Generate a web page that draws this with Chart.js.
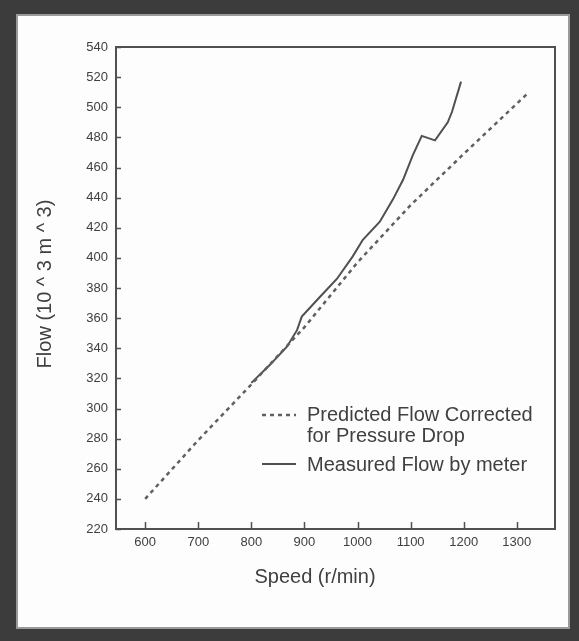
<!DOCTYPE html>
<html>
<head>
<meta charset="utf-8">
<script src="https://cdn.jsdelivr.net/npm/chart.js@4"></script>
<style>
  html, body { margin: 0; padding: 0; background: #3c3c3c; }
  canvas { display: block; }
</style>
</head>
<body>
<canvas id="c" width="579" height="641"></canvas>
<script>
// ---- data ----
const predictedSpeed = [600, 700, 800, 900, 1000, 1100, 1200, 1320];
const predictedFlow  = [240, 279, 316, 354, 397, 435, 469, 509];

const measuredSpeed = [800, 835, 867, 886, 895, 929, 961, 991, 1010, 1042, 1067, 1086, 1104, 1121, 1146, 1170, 1178, 1195];
const measuredFlow  = [317, 329, 341, 352, 361, 374, 386, 401, 412, 424, 439, 452, 468, 481, 478, 490, 497, 517];

const xTickValues = [600, 700, 800, 900, 1000, 1100, 1200, 1300];
const yTickValues = [220, 240, 260, 280, 300, 320, 340, 360, 380, 400, 420, 440, 460, 480, 500, 520, 540];

const xTitle = 'Speed (r/min)';
const yTitle = 'Flow (10 ^ 3 m ^ 3)';
const predictedLabel = ['Predicted Flow Corrected', 'for Pressure Drop'];
const measuredLabel = 'Measured Flow by meter';

const FONT = '"Liberation Sans", Arial, Helvetica, sans-serif';
const INK = '#404040';
const LINE = '#505050';

function pts(xs, ys) { return xs.map((x, i) => ({ x: x, y: ys[i] })); }

const framePlugin = {
  id: 'frame',
  beforeDraw(chart) {
    const ctx = chart.ctx;
    ctx.save();
    ctx.fillStyle = '#3c3c3c';
    ctx.fillRect(0, 0, chart.width, chart.height);
    ctx.fillStyle = '#9a9a9a';
    ctx.fillRect(16, 14, 554, 615);
    ctx.fillStyle = '#fdfdfd';
    ctx.fillRect(18, 16, 550, 611);
    ctx.restore();
  },
  afterDatasetsDraw(chart) {
    const ctx = chart.ctx;
    const a = chart.chartArea;
    const xs = chart.scales.x, ys = chart.scales.y;
    ctx.save();
    ctx.strokeStyle = LINE;
    ctx.lineWidth = 2;
    ctx.strokeRect(a.left, a.top, a.right - a.left, a.bottom - a.top);
    ctx.lineWidth = 1.5;
    ctx.beginPath();
    xTickValues.forEach(v => {
      const p = Math.round(xs.getPixelForValue(v)) + 0.5;
      ctx.moveTo(p, a.bottom);
      ctx.lineTo(p, a.bottom - 7);
    });
    yTickValues.forEach(v => {
      const p = Math.round(ys.getPixelForValue(v)) + 0.5;
      ctx.moveTo(a.left, p);
      ctx.lineTo(a.left + 5, p);
    });
    ctx.stroke();

    // legend
    const lx0 = a.left + 146, lx1 = a.left + 180, tx = a.left + 191;
    ctx.strokeStyle = '#606060';
    ctx.lineWidth = 2.5;
    ctx.setLineDash([4, 4]);
    ctx.beginPath();
    ctx.moveTo(lx0, a.top + 368); ctx.lineTo(lx1, a.top + 368);
    ctx.stroke();
    ctx.setLineDash([]);
    ctx.strokeStyle = LINE;
    ctx.lineWidth = 2;
    ctx.beginPath();
    ctx.moveTo(lx0, a.top + 417); ctx.lineTo(lx1, a.top + 417);
    ctx.stroke();
    ctx.fillStyle = INK;
    ctx.font = '20px ' + FONT;
    ctx.textAlign = 'left';
    ctx.textBaseline = 'middle';
    ctx.fillText(predictedLabel[0], tx, a.top + 368);
    ctx.fillText(predictedLabel[1], tx, a.top + 389);
    ctx.fillText(measuredLabel, tx, a.top + 418);

    // axis titles
    ctx.textAlign = 'center';
    ctx.fillText(xTitle, a.left + 199, a.bottom + 48);
    ctx.translate(a.left - 71, (a.top + a.bottom) / 2 - 4);
    ctx.rotate(-Math.PI / 2);
    ctx.fillText(yTitle, 0, 0);
    ctx.restore();
  }
};

new Chart(document.getElementById('c'), {
  type: 'line',
  data: {
    datasets: [
      {
        label: predictedLabel.join(' '),
        data: pts(predictedSpeed, predictedFlow),
        borderColor: '#606060',
        borderWidth: 2.5,
        borderDash: [4, 4],
        pointRadius: 0,
        tension: 0,
        fill: false
      },
      {
        label: measuredLabel,
        data: pts(measuredSpeed, measuredFlow),
        borderColor: LINE,
        borderWidth: 2,
        pointRadius: 0,
        tension: 0,
        fill: false
      }
    ]
  },
  options: {
    responsive: false,
    devicePixelRatio: 1,
    animation: false,
    layout: { padding: { left: 0, top: 47, right: 24, bottom: 0 } },
    plugins: { legend: { display: false }, tooltip: { enabled: false } },
    scales: {
      x: {
        type: 'linear',
        min: 545,
        max: 1372,
        afterFit(s) { s.height = 112; },
        afterBuildTicks(s) { s.ticks = xTickValues.map(v => ({ value: v })); },
        grid: { display: false, drawTicks: false },
        border: { display: false },
        ticks: { font: { family: FONT, size: 13 }, color: INK, padding: 6, maxRotation: 0,
                 callback: v => String(v) }
      },
      y: {
        type: 'linear',
        min: 220,
        max: 540,
        afterFit(s) { s.width = 116; },
        afterBuildTicks(s) { s.ticks = yTickValues.map(v => ({ value: v })); },
        grid: { display: false, drawTicks: false },
        border: { display: false },
        ticks: { font: { family: FONT, size: 13 }, color: INK, padding: 8,
                 callback: v => String(v) }
      }
    }
  },
  plugins: [framePlugin]
});
</script>
</body>
</html>
